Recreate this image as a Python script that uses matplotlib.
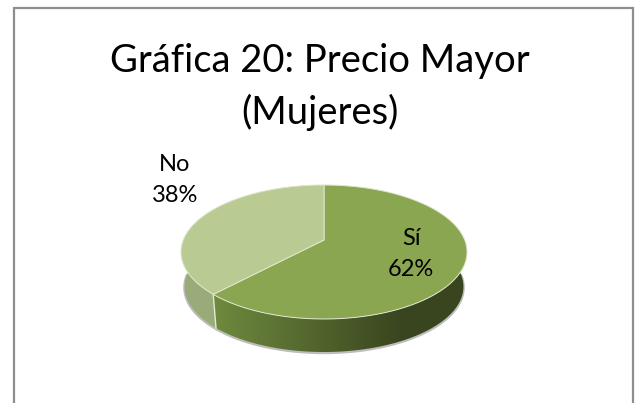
import numpy as np
import matplotlib
matplotlib.use('Agg')
import matplotlib.pyplot as plt
from matplotlib.patches import Polygon

labels = ['Sí', 'No']
shares = [62, 38]
title = 'Gráfica 20: Precio Mayor\n(Mujeres)'

top_colors = ['#8aa650', '#b9cb93']
no_side_color = '#98ab78'
side_left = np.array(matplotlib.colors.to_rgb('#6f8a3e'))
side_right = np.array(matplotlib.colors.to_rgb('#39451f'))

# pie centre and perspective, in pixels
cx, cy = 324, 240
a, b, k = 140.7, 64.85, 0.179
depth = 35
shrink = 0.975


def project(theta, lower=False):
    # theta is clockwise from 12 o'clock, in radians
    u, v = np.sin(theta), np.cos(theta)
    w = 1 + k * v
    x, y = a * u / w, b * v / w
    if lower:
        return cx + shrink * x, cy - shrink * y + depth
    return cx + x, cy - y


def wall(ax, t0, t1, color=None):
    theta = np.linspace(t0, t1, 200)
    xt, yt = project(theta)
    xb, yb = project(theta, lower=True)
    pts = np.r_[np.c_[xt, yt], np.c_[xb, yb][::-1]]
    if color is not None:
        ax.add_patch(Polygon(pts, closed=True, fc=color, ec='none', zorder=3))
        return
    clip = Polygon(pts, closed=True, fc='none', ec='none', transform=ax.transData)
    ax.add_patch(clip)
    # shading runs dark to the right, then stays flat
    ramp = np.clip(np.linspace(0, 1, 256) / 0.72, 0, 1)[None, :, None]
    grad = side_left + (side_right - side_left) * ramp
    im = ax.imshow(grad, extent=(214, 475, 360, 240), aspect='auto', zorder=3)
    im.set_clip_path(clip)


fig = plt.figure(figsize=(6.38, 4.03), dpi=100)
ax = fig.add_axes([0, 0, 1, 1])

# chart frame, the bottom edge runs off the page
ax.plot([13.5, 13.5, 633, 633], [403, 8, 8, 403], color='#8e8e8e', lw=1.6,
        solid_joinstyle='miter', zorder=1)

angles = np.cumsum([0] + shares) / sum(shares) * 2 * np.pi

# soft shadow under the walls
th = np.linspace(np.pi / 2, 3 * np.pi / 2, 200)
sx, sy = project(th, lower=True)
ax.plot(sx, sy + 0.8, color='#bdbdbd', lw=2, zorder=2)

wall(ax, 0, angles[1])
wall(ax, angles[1], angles[2], color=no_side_color)

# seam between the two walls
xs, ys = project(np.array([angles[1]]))
xe, ye = project(np.array([angles[1]]), lower=True)
ax.plot([xs[0], xe[0]], [ys[0], ye[0]], color='#e2e8d4', lw=1, zorder=4)

for i in range(len(shares)):
    theta = np.linspace(angles[i], angles[i + 1], 200)
    x, y = project(theta)
    pts = np.r_[[[cx, cy]], np.c_[x, y]]
    ax.add_patch(Polygon(pts, closed=True, fc=top_colors[i], ec='#e0e7d0', lw=0.7, zorder=5))

fnt = ['Lato', 'DejaVu Sans']
ax.text(320, 87, title, ha='center', va='center', fontsize=27.5, family=fnt,
        color='black', linespacing=1.47, zorder=6)
ax.text(411, 254, f'{labels[0]}\n{shares[0]}%', ha='center', va='center', fontsize=17,
        family=fnt, color='black', linespacing=1.6, zorder=6)
ax.text(175, 180, f'{labels[1]}\n{shares[1]}%', ha='center', va='center', fontsize=17,
        family=fnt, color='black', linespacing=1.6, zorder=6)

ax.set_xlim(0, 638)
ax.set_ylim(403, 0)
ax.axis('off')
fig.savefig('out.png', dpi=100, facecolor='white')
